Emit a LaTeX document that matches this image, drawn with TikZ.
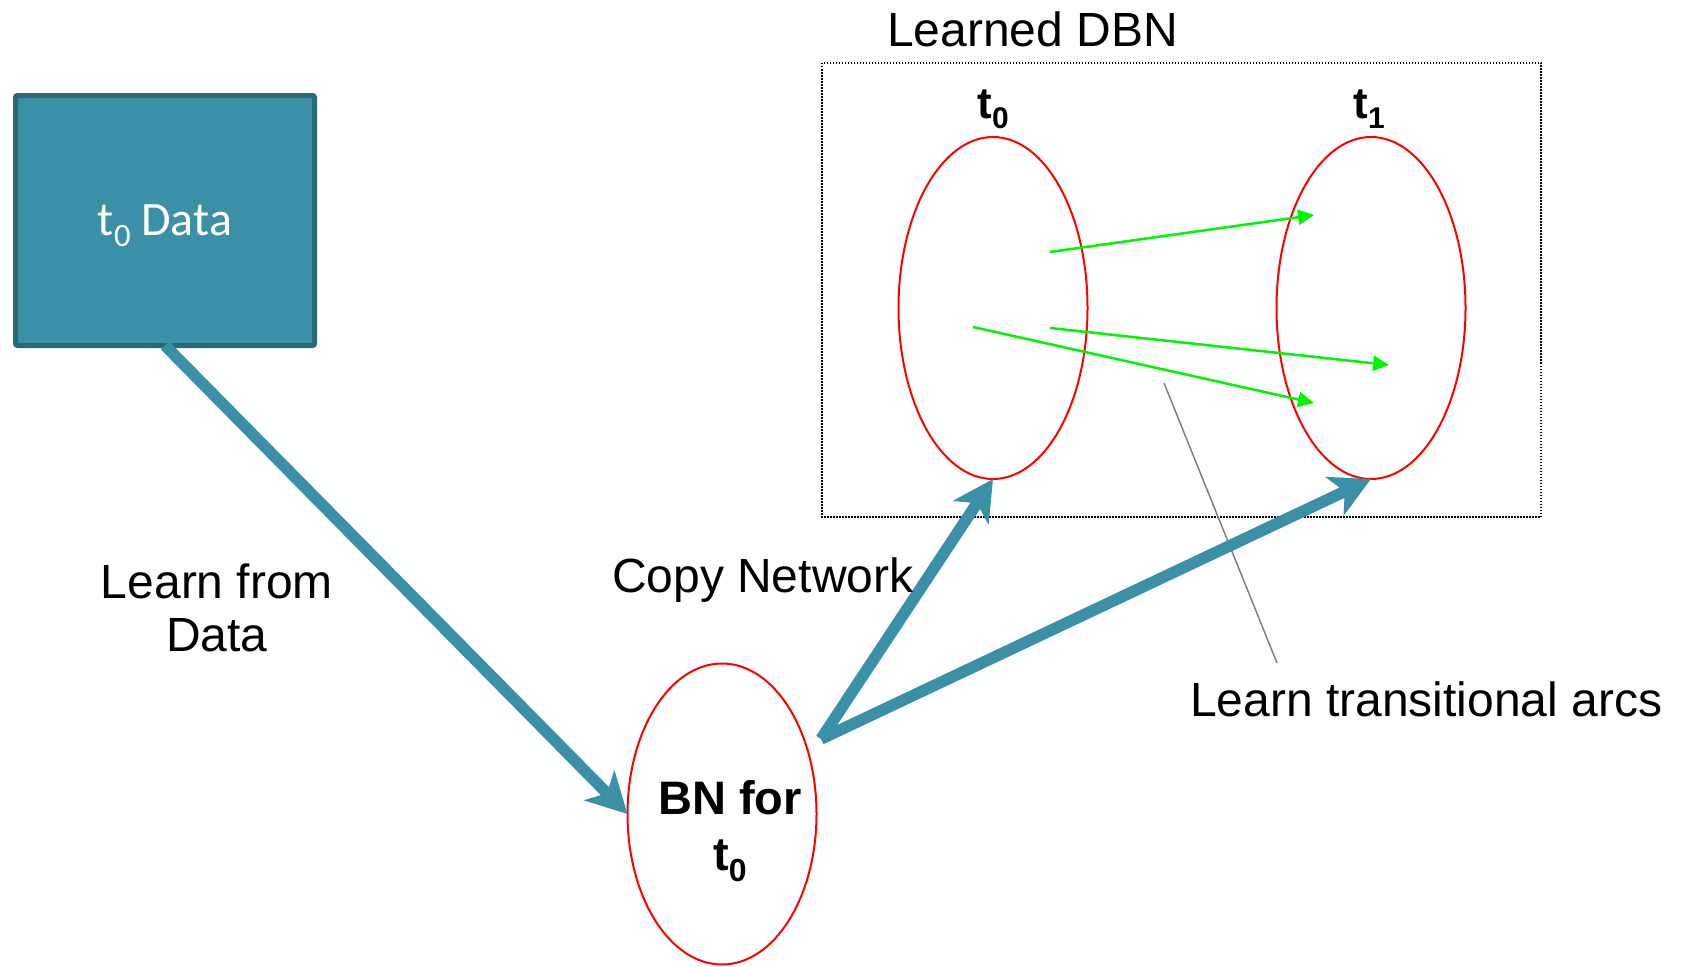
\documentclass[tikz,border=0pt]{standalone}
\usepackage{fontspec}
\usepackage{graphicx}
\setmainfont{Liberation Sans}
\newfontfamily\boxfont{Carlito}
\usetikzlibrary{shapes.geometric,arrows.meta}

\definecolor{tealfill}{RGB}{58,144,166}
\definecolor{tealedge}{RGB}{40,106,124}
\definecolor{arcgreen}{RGB}{0,245,0}
\definecolor{leadgray}{RGB}{128,128,128}

% lowered, shrunken index in the current text font
\newcommand\lowidx[1]{\raisebox{-0.24em}{\scalebox{0.68}{#1}}}

\tikzset{
  every node/.style={inner sep=0pt, outer sep=0pt},
  bigtext/.style={font=\fontsize{48}{53}\selectfont},
  boldlabel/.style={font=\fontsize{47}{56}\selectfont\bfseries, align=center},
  steplabel/.style={font=\fontsize{44}{48}\selectfont\bfseries},
  netellipse/.style={ellipse, draw=red, line width=2pt, minimum width=189pt},
  databox/.style={rectangle, rounded corners=2pt, fill=tealfill, draw=tealedge,
    line width=5pt, minimum width=299pt, minimum height=250pt,
    text=white, font=\boxfont\fontsize{48}{52}\selectfont},
  flow/.style={draw=tealfill, line width=11.5pt, line cap=butt,
    -{Stealth[length=40pt, width=42pt, inset=11pt]}},
  arc/.style={draw=arcgreen, line width=2.5pt,
    -{Triangle[length=16pt, width=15pt]}},
  leader/.style={draw=leadgray, line width=1.5pt},
  dbnframe/.style={draw=black, line width=1.5pt, dash pattern=on 1.5pt off 1.5pt},
}

\begin{document}
\begin{tikzpicture}[x=1pt, y=-1pt]
  \useasboundingbox (0,0) rectangle (1683,966);

  % frame around the learned two-slice network
  \draw[dbnframe] (822,63) rectangle (1541,517);
  \node[bigtext, anchor=base west] (dbntitle) at (887,47) {Learned DBN};

  % data source and the learned static network
  \node[databox] (data) at (165,220.5) {};
  \node[text=white, font=\boxfont\fontsize{48}{52}\selectfont, anchor=base] (datatext) at (165,235) {t\lowidx{0} Data};
  \node[netellipse, minimum height=301pt] (bn) at (722,814) {};
  \node[boldlabel, anchor=base] (bntext) at (730,870) {BN for\\t\lowidx{0}};

  % the two time slices
  \node[netellipse, minimum height=342pt] (e0) at (993,308) {};
  \node[netellipse, minimum height=342pt] (e1) at (1371,308) {};
  \node[steplabel, anchor=base] (lab0) at (993,118) {t\lowidx{0}};
  \node[steplabel, anchor=base] (lab1) at (1369,118) {t\lowidx{1}};

  % transitional arcs between the slices
  \coordinate (a1s) at (1050,252);  \coordinate (a1e) at (1314,215);
  \coordinate (a2s) at (1050,328);  \coordinate (a2e) at (1389,365);
  \coordinate (a3s) at (973,327);   \coordinate (a3e) at (1314,403);
  \draw[arc] (a1s) -- (a1e);
  \draw[arc] (a2s) -- (a2e);
  \draw[arc] (a3s) -- (a3e);

  % callout for the arcs
  \coordinate (leadtop) at (1164,383);
  \coordinate (leadbot) at (1277,663);
  \draw[leader] (leadtop) -- (leadbot);
  \node[bigtext, anchor=base west] (arcnote) at (1190,716) {Learn transitional arcs};

  % process flow
  \coordinate (fork) at (821,739);
  \draw[flow] (data.south) -- (bn.west);
  \draw[flow] (fork) -- (e0.south);
  \draw[flow] (fork) -- (e1.south);

  \node[bigtext, align=center, anchor=base] (learnnote) at (217,651) {Learn from\\Data};
  \node[bigtext, anchor=base west] (copynote) at (612,592) {Copy Network};
\end{tikzpicture}
\end{document}
